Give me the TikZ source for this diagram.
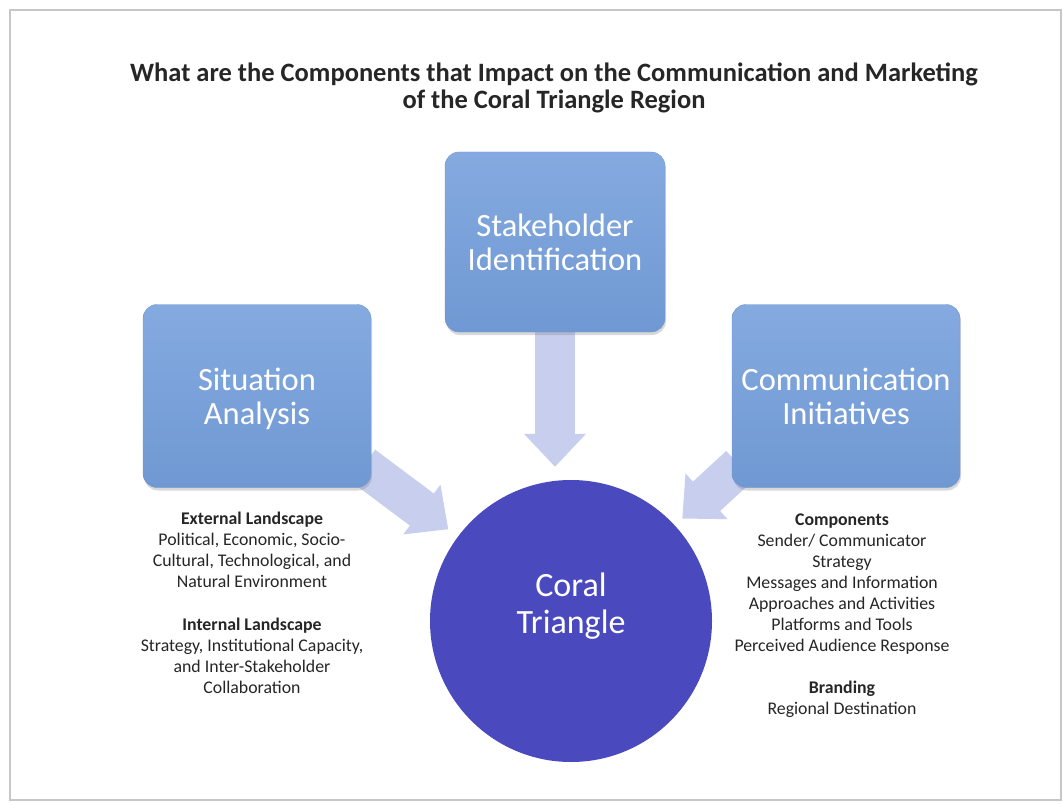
\documentclass[tikz,border=0pt]{standalone}
\usepackage{fontspec}
\setmainfont{Carlito}
\usetikzlibrary{arrows.meta,backgrounds,shadows}

\definecolor{boxtop}{RGB}{132,170,224}
\definecolor{boxbot}{RGB}{112,152,210}
\definecolor{hubblue}{RGB}{74,74,190}
\definecolor{feedc}{RGB}{200,206,238}

\begin{document}
\begin{tikzpicture}[x=1pt,y=-1pt]

\tikzstyle box=[rounded corners=14pt, minimum width=228pt, minimum height=183pt, text depth=0pt, top color=boxtop, bottom color=boxbot, draw=boxbot, text=white, align=center, font=\fontsize{32.5}{34}\selectfont, drop shadow={opacity=.3, shadow xshift=1pt, shadow yshift=-3pt}]
\tikzstyle hub=[circle, minimum size=282pt, inner sep=0pt, text depth=36pt, fill=hubblue, text=white, align=center, font=\fontsize{34}{37}\selectfont]
\tikzstyle note=[align=center, text=black!85, font=\fontsize{17.8}{21}\selectfont]
\tikzstyle feed=[line width=40pt, draw=feedc, -{Triangle[length=33pt, width=60pt]}]

\useasboundingbox (0,0) rectangle (1063,805);

\node (title) [align=center, text=black!85, font=\bfseries\fontsize{26.5}{26.5}\selectfont] at (554,88) {What are the Components that Impact on the Communication and Marketing\\of the Coral Triangle Region};

\node (sit) [box] at (257,396) {Situation\\Analysis};
\node (stake) [box, minimum width=220pt, minimum height=180pt] at (555,242) {Stakeholder\\Identification};
\node (comm) [box] at (846,396) {Communication\\Initiatives};
\node (coral) [hub] at (571,621) {Coral\\Triangle};

\node (ext) [note, anchor=north] at (252,508) {\textbf{External Landscape}\\Political, Economic, Socio-\\Cultural, Technological, and\\Natural Environment\\[22pt]\textbf{Internal Landscape}\\Strategy, Institutional Capacity,\\and Inter-Stakeholder\\Collaboration};
\node (tools) [note, anchor=north] at (842,510) {\textbf{Components}\\Sender/ Communicator\\Strategy\\Messages and Information\\Approaches and Activities\\Platforms and Tools\\Perceived Audience Response\\[21pt]\textbf{Branding}\\Regional Destination};

\begin{scope}[on background layer]
\fill [white] (0,0) rectangle (1063,805);
\draw [black!22, line width=2.5pt] (10,10) rectangle (1061,800);
\draw [feed, shorten >=13pt] (stake.south) -- (stake.south |- coral.north);
\draw [feed, shorten >=12pt] ([shift={(-8,-22)}]sit.south east) -- (coral);
\draw [feed, shorten >=10pt] ([shift={(8,-22)}]comm.south west) -- (coral);
\end{scope}

\end{tikzpicture}
\end{document}
